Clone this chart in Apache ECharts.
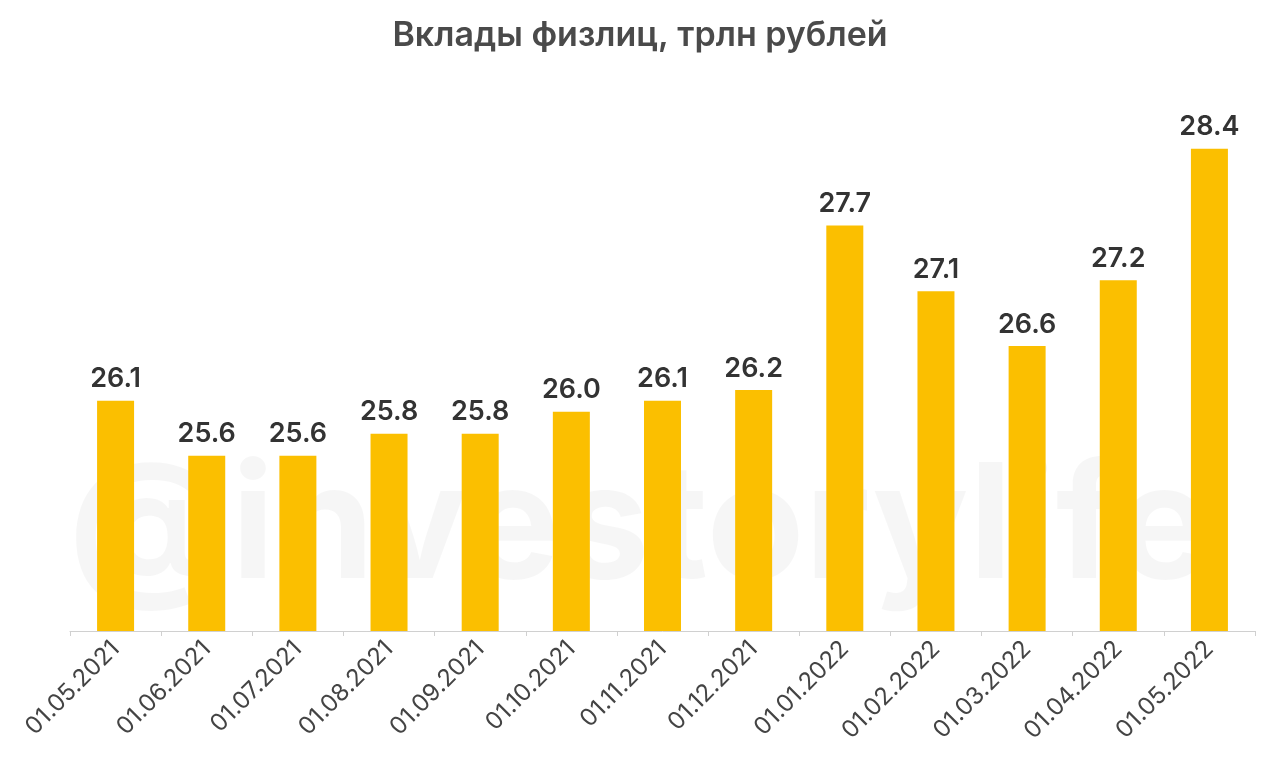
<!DOCTYPE html>
<html><head><meta charset="utf-8">
<script src="https://cdn.jsdelivr.net/npm/echarts@6/dist/echarts.min.js"></script>
<style>html,body{margin:0;background:#fff}#main{width:1280px;height:783px}</style>
</head><body><div id="main"></div>
<script>
var dates = ['01.05.2021','01.06.2021','01.07.2021','01.08.2021','01.09.2021','01.10.2021','01.11.2021','01.12.2021','01.01.2022','01.02.2022','01.03.2022','01.04.2022','01.05.2022'];
var deposits = [26.1, 25.6, 25.6, 25.8, 25.8, 26.0, 26.1, 26.2, 27.7, 27.1, 26.6, 27.2, 28.4];

var myChart = echarts.init(document.getElementById('main'));
var option = {
    title: {
        text: 'Вклады физлиц, трлн рублей',
        left: 'center',
        top: 14,
        textStyle: { fontSize: 34, fontWeight: 600, color: '#4a4a4a', fontFamily: 'Inter' }
    },
    graphic: [{
        type: 'text',
        left: 'center',
        top: 450,
        z: 0,
        style: { text: '@investorylife', fontSize: 160, fontWeight: 'bold', fill: 'rgba(0,0,0,0.035)', fontFamily: 'Inter' }
    }],
    grid: { left: 70, right: 25, top: 83, bottom: 152 },
    xAxis: {
        type: 'category',
        data: dates,
        axisLine: { lineStyle: { color: '#d0d0d0' } },
        axisTick: { show: true, lineStyle: { color: '#d0d0d0' } },
        axisLabel: { rotate: 45, fontSize: 24, color: '#444', margin: 14, fontFamily: 'Inter' }
    },
    yAxis: { type: 'value', min: 24, max: 29, show: false },
    series: [{
        type: 'bar',
        data: deposits,
        barWidth: 37,
        itemStyle: { color: '#FBBF00' },
        label: {
            show: true, position: 'top', distance: 8,
            fontSize: 27, fontWeight: 600, color: '#333', fontFamily: 'Inter',
            formatter: function (p) { return p.value.toFixed(1); }
        }
    }]
};
myChart.setOption(option);
window.onresize = function () { myChart.resize(); };
</script></body></html>
